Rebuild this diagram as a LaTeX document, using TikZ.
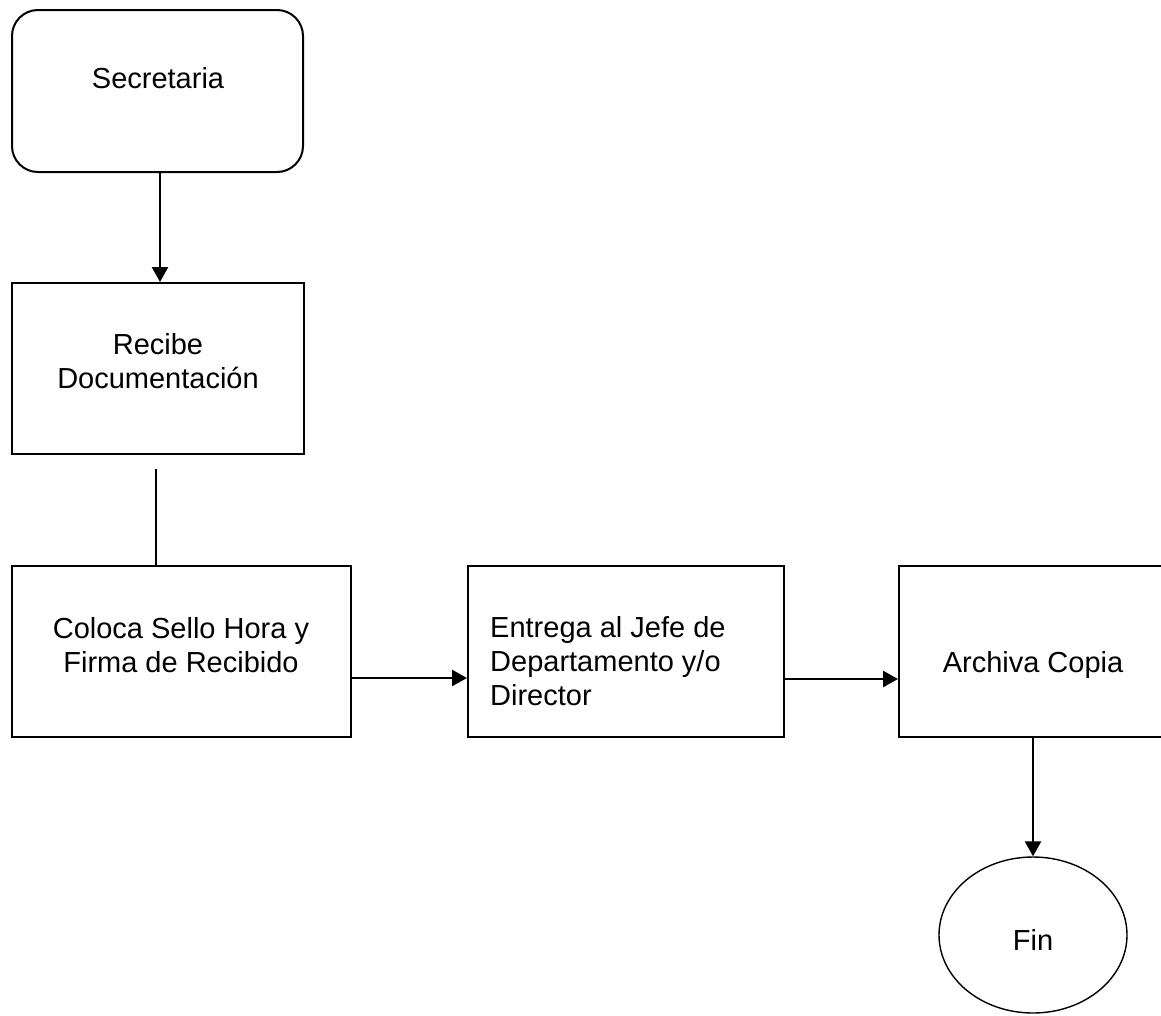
\documentclass[tikz,border=0pt]{standalone}
\usepackage{fontspec}
\setmainfont{Liberation Sans}
\usetikzlibrary{shapes.geometric,arrows.meta}
\begin{document}
\begin{tikzpicture}[x=1pt,y=-1pt,
  boxline/.style={draw=black,line width=2pt,inner sep=0pt},
  stepbox/.style={boxline,rectangle},
  txt/.style={inner sep=0pt,anchor=base,font=\fontsize{29}{34}\selectfont},
  arr/.style={line width=2.6pt,-{Triangle[length=15pt,width=16pt]}},
  plain/.style={line width=2.2pt}]
\useasboundingbox (0,0) rectangle (1161,1015);
% boxes
\node[boxline,rectangle,rounded corners=26pt,minimum width=291pt,minimum height=162pt] (sec) at (157.5,91) {};
\node[stepbox,minimum width=292pt,minimum height=171pt] (rec) at (158,368.5) {};
\node[stepbox,minimum width=339pt,minimum height=171pt] (col) at (181.5,651.5) {};
\node[stepbox,minimum width=316pt,minimum height=171pt] (ent) at (626,651.5) {};
\node[stepbox,minimum width=268pt,minimum height=171pt] (arc) at (1033,651.5) {};
\node[draw=black,line width=1.4pt,inner sep=0pt,ellipse,minimum width=188pt,minimum height=156pt] (fin) at (1033,935) {};
% texts
\node[txt] (tsec) at (158,88) {Secretaria};
\node[txt] (trec1) at (158,354) {Recibe};
\node[txt] (trec2) at (158,388) {Documentación};
\node[txt] (tcol1) at (181,638) {Coloca Sello Hora y};
\node[txt] (tcol2) at (181,672) {Firma de Recibido};
\node[txt,anchor=base west] (tent1) at (490,637) {Entrega al Jefe de};
\node[txt,anchor=base west] (tent2) at (490,671) {Departamento y/o};
\node[txt,anchor=base west] (tent3) at (490,705) {Director};
\node[txt] (tarc) at (1033,672) {Archiva Copia};
\node[txt] (tfin) at (1033,950) {Fin};
% connectors
\coordinate (xa) at (160,0);
\draw[arr] (sec.south -| xa) -- (rec.north -| xa);
\coordinate (gap) at (156,469);
\draw[plain] (gap) -- (gap |- col.north);
\coordinate (ya) at (0,678);
\draw[arr] (col.east |- ya) -- (ent.west |- ya);
\coordinate (yb) at (0,679);
\draw[arr] (ent.east |- yb) -- (arc.west |- yb);
\draw[arr] (arc.south) -- (fin.north);
\end{tikzpicture}
\end{document}
